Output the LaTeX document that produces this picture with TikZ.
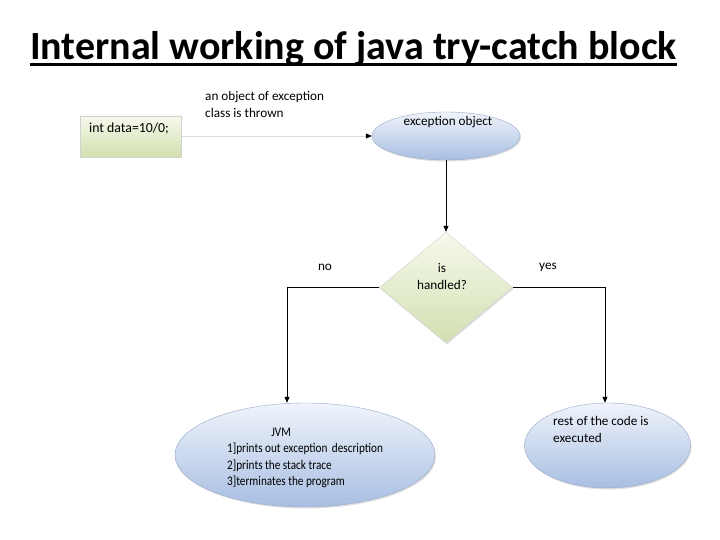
\documentclass[tikz,border=0pt]{standalone}
\usepackage{fontspec}
\setmainfont{Carlito}
\usetikzlibrary{shapes.geometric,arrows.meta,shadows}
\begin{document}
\begin{tikzpicture}[x=1pt,y=-1pt,
  txt/.style={font=\fontsize{13.2}{17}\selectfont, inner sep=0pt, align=left},
  greenbox/.style={draw=gray!35, top color={rgb,255:red,246;green,249;blue,236}, bottom color={rgb,255:red,210;green,224;blue,176}, drop shadow={opacity=0.25,shadow xshift=1pt,shadow yshift=-1.5pt}},
  blueshape/.style={draw={rgb,255:red,150;green,170;blue,200}, top color={rgb,255:red,240;green,244;blue,251}, bottom color={rgb,255:red,168;green,190;blue,226}, drop shadow={opacity=0.25,shadow xshift=1pt,shadow yshift=-1.5pt}},
  conn/.style={black, line width=0.8pt, -{Triangle[length=6pt,width=5pt]}}
]
\useasboundingbox[fill=white] (0,0) rectangle (720,540);

% title
\node[font=\fontsize{40}{44}\selectfont\bfseries, inner sep=0pt, anchor=base] (title) at (353.5,59.5) {Internal working of java try-catch block};
\draw[line width=2.8pt] ([yshift=-5pt]title.base west) -- ([yshift=-5pt]title.base east);

% shapes
\node[greenbox, rectangle, minimum width=101pt, minimum height=41pt, inner sep=0pt] (code) at (130.5,136.5) {};
\node[txt, font=\fontsize{13.8}{17}\selectfont, anchor=west] (codetxt) at (89,129) {int data=10/0;};

\node[blueshape, ellipse, minimum width=148pt, minimum height=48pt, inner sep=0pt] (exc) at (446,136) {};
\node[txt, anchor=center] (exctxt) at (448,122) {exception object};

\node[greenbox, diamond, minimum width=133pt, minimum height=111pt, inner sep=0pt] (dec) at (446,287.5) {};
\node[txt, align=center, anchor=center] (dectxt) at (442,277) {is\\handled?};

\node[blueshape, ellipse, minimum width=260pt, minimum height=104pt, inner sep=0pt] (jvm) at (305,455) {};
\node[txt, anchor=north west] (jvmtxt) at (227,424) {\scalebox{0.85}[1]{\begin{tabular}{@{}l@{}}\hspace*{52pt}JVM\\[-0.5pt]1]prints out exception\, description\\[-0.5pt]2]prints the stack trace\\[-0.5pt]3]terminates the program\end{tabular}}};

\node[blueshape, ellipse, minimum width=166pt, minimum height=85pt, inner sep=0pt] (rest) at (607.5,445.5) {};
\node[txt, anchor=north west] (resttxt) at (553,416) {rest of the code is\\executed};

% labels
\node[txt, anchor=north west] (thrown) at (205,91) {an object of exception\\class is thrown};
\node[txt, anchor=center] (no) at (325,267) {no};
\node[txt, anchor=center] (yes) at (548,267) {yes};

% connectors
\draw[gray!30, line width=0.6pt, -{Triangle[length=6pt,width=5pt,fill=black,color=black]}] (code.east |- exc.west) -- (exc.west);
\draw[conn] (exc.south) -- (dec.north);
\coordinate (lc) at (287,287.5);
\coordinate (rc) at (605,287.5);
\draw[conn] (dec.west) -- (lc) -- (lc |- jvm.north);
\draw[conn] (dec.east) -- (rc) -- (rc |- rest.north);
\end{tikzpicture}
\end{document}
